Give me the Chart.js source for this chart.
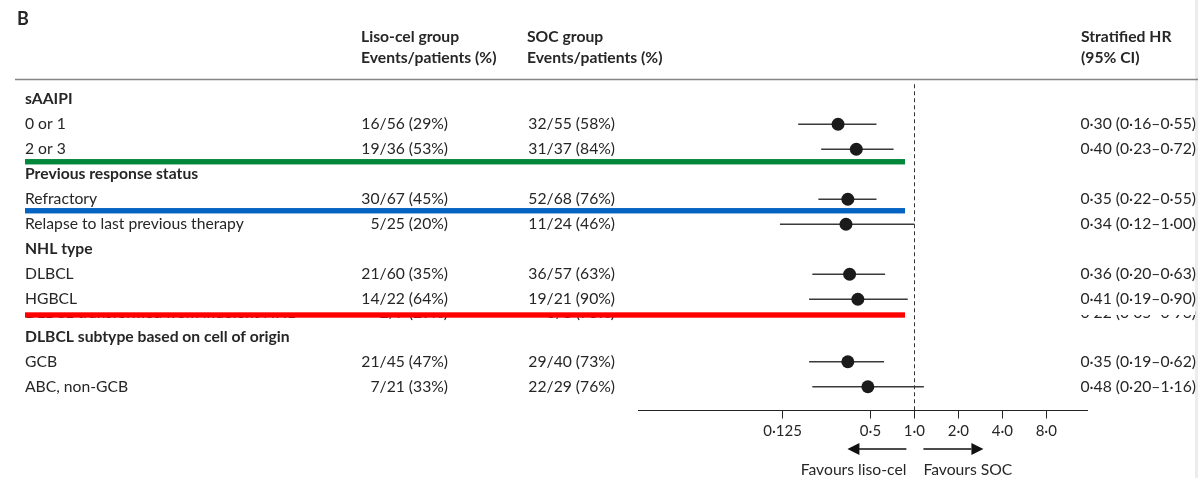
<!DOCTYPE html>
<html>
<head>
<meta charset="utf-8">
<title>Forest plot – subgroups</title>
<script src="https://cdn.jsdelivr.net/npm/chart.js@4.4.1/dist/chart.umd.min.js"></script>
<style>
  html, body { margin: 0; padding: 0; background: #fff; }
  #wrap { width: 1198px; height: 478px; position: relative; }
</style>
</head>
<body>
<div id="wrap"><canvas id="forest" width="1198" height="478"></canvas></div>
<script>
// rows of the table, top to bottom
const rowLabels = ['sAAIPI', '0 or 1', '2 or 3', 'Previous response status', 'Refractory',
  'Relapse to last previous therapy', 'NHL type', 'DLBCL', 'HGBCL',
  'DLBCL transformed from indolent NHL', 'DLBCL subtype based on cell of origin', 'GCB', 'ABC, non-GCB'];
const isHeading = [true, false, false, true, false, false, true, false, false, false, true, false, false];
const lisoCel = ['', '16/56 (29%)', '19/36 (53%)', '', '30/67 (45%)', '5/25 (20%)', '',
  '21/60 (35%)', '14/22 (64%)', '2/7 (29%)', '', '21/45 (47%)', '7/21 (33%)'];
const socGroup = ['', '32/55 (58%)', '31/37 (84%)', '', '52/68 (76%)', '11/24 (46%)', '',
  '36/57 (63%)', '19/21 (90%)', '6/8 (75%)', '', '29/40 (73%)', '22/29 (76%)'];
const hr = [null, 0.30, 0.40, null, 0.35, 0.34, null, 0.36, 0.41, 0.22, null, 0.35, 0.48];
const ciLow = [null, 0.16, 0.23, null, 0.22, 0.12, null, 0.20, 0.19, 0.05, null, 0.19, 0.20];
const ciHigh = [null, 0.55, 0.72, null, 0.55, 1.00, null, 0.63, 0.90, 0.96, null, 0.62, 1.16];
const xTicks = [0.125, 0.5, 1, 2, 4, 8];

// the transformed-NHL row sits under the red bar and only its lower edge shows;
// it takes up half a row and has no marker of its own
const coveredRow = 9;
const rowY = rowLabels.map((_, i) => i < coveredRow ? i : i === coveredRow ? i - 0.44 : i - 0.5);

const FONT = 'Lato, "Open Sans", sans-serif';
const SIZE = 15.7;
const ink = '#262626';

const fmt = v => v.toFixed(2).replace('.', '·');
const tickFmt = v => (Number.isInteger(v) || v === 0.5 ? v.toFixed(1) : String(v)).replace('.', '·');

const pointData = [];
const ciSets = [];
hr.forEach((v, i) => {
  if (v == null || i === coveredRow) return;
  pointData.push({ x: v, y: rowY[i] });
  ciSets.push({
    type: 'line',
    data: [{ x: ciLow[i], y: rowY[i] }, { x: ciHigh[i], y: rowY[i] }],
    borderColor: '#3a3a3a',
    borderWidth: 1.3,
    pointRadius: 0,
    fill: false
  });
});

const tableText = {
  id: 'tableText',
  afterDraw(chart) {
    const { ctx, chartArea } = chart;
    const xs = chart.scales.x, ys = chart.scales.y;
    ctx.save();

    // page edge
    ctx.fillStyle = '#ececec';
    ctx.fillRect(1195, 0, 3, 478);

    ctx.fillStyle = ink;
    ctx.textBaseline = 'middle';

    // column headings
    ctx.font = `bold 18px ${FONT}`;
    ctx.textAlign = 'left';
    ctx.fillText('B', 17, 19);
    ctx.font = `bold ${SIZE}px ${FONT}`;
    ctx.fillText('Liso-cel group', 361, 37);
    ctx.fillText('Events/patients (%)', 361, 58);
    ctx.fillText('SOC group', 527, 37);
    ctx.fillText('Events/patients (%)', 527, 58);
    ctx.fillText('Stratified HR', 1081, 37);
    ctx.fillText('(95% CI)', 1081, 58);

    ctx.strokeStyle = '#858585';
    ctx.lineWidth = 1.6;
    ctx.beginPath();
    ctx.moveTo(15, 79.5);
    ctx.lineTo(1198, 79.5);
    ctx.stroke();

    // body rows
    rowLabels.forEach((lab, i) => {
      const y = ys.getPixelForValue(rowY[i]);
      ctx.textAlign = 'left';
      ctx.font = `${isHeading[i] ? 'bold ' : ''}${SIZE}px ${FONT}`;
      ctx.fillText(lab, 25, y);
      if (isHeading[i]) return;
      ctx.font = `${SIZE}px ${FONT}`;
      ctx.textAlign = 'right';
      ctx.fillText(lisoCel[i], 448, y);
      ctx.fillText(socGroup[i], 615, y);
      ctx.fillText(`${fmt(hr[i])} (${fmt(ciLow[i])}–${fmt(ciHigh[i])})`, 1196, y);
    });

    // white-out between the HGBCL row and the red bar
    const redY = 315;
    ctx.fillStyle = '#fff';
    ctx.fillRect(15, 306.8, 1180, redY - 306.8);

    // reference line at HR = 1
    const x1 = xs.getPixelForValue(1);
    ctx.strokeStyle = '#333';
    ctx.lineWidth = 1;
    ctx.setLineDash([4, 3]);
    ctx.beginPath();
    ctx.moveTo(Math.round(x1) + 0.5, chartArea.top);
    ctx.lineTo(Math.round(x1) + 0.5, chartArea.bottom);
    ctx.stroke();
    ctx.setLineDash([]);

    // coloured marker bars between rows
    const bars = [
      { y: ys.getPixelForValue(2.5), c: '#00873a' },
      { y: ys.getPixelForValue(4.5) - 1, c: '#0563c1' },
      { y: redY, c: '#ff0000' }
    ];
    bars.forEach(b => {
      ctx.fillStyle = b.c;
      ctx.fillRect(25, b.y - 2.7, 880, 5.4);
    });

    // direction arrows under the axis
    const ay = 449;
    ctx.strokeStyle = '#111';
    ctx.fillStyle = '#111';
    ctx.lineWidth = 1.3;
    ctx.beginPath();
    ctx.moveTo(x1 - 8, ay); ctx.lineTo(x1 - 56, ay);
    ctx.moveTo(x1 + 9, ay); ctx.lineTo(x1 + 57, ay);
    ctx.stroke();
    ctx.beginPath();
    ctx.moveTo(x1 - 67, ay); ctx.lineTo(x1 - 55, ay - 6); ctx.lineTo(x1 - 55, ay + 6); ctx.closePath();
    ctx.moveTo(x1 + 69, ay); ctx.lineTo(x1 + 57, ay - 6); ctx.lineTo(x1 + 57, ay + 6); ctx.closePath();
    ctx.fill();

    ctx.fillStyle = ink;
    ctx.font = `${SIZE}px ${FONT}`;
    ctx.textAlign = 'right';
    ctx.fillText('Favours liso-cel', x1 - 8, 470);
    ctx.textAlign = 'left';
    ctx.fillText('Favours SOC', x1 + 9, 470);
    ctx.restore();
  }
};

new Chart(document.getElementById('forest').getContext('2d'), {
  type: 'scatter',
  data: {
    datasets: [
      {
        type: 'scatter',
        data: pointData,
        pointRadius: 6.5,
        pointHoverRadius: 6.5,
        backgroundColor: '#1b1b1b',
        borderWidth: 0
      },
      ...ciSets
    ]
  },
  options: {
    responsive: false,
    animation: false,
    events: [],
    layout: { padding: { left: 638, right: 111, top: 84.25, bottom: 37.5 } },
    plugins: { legend: { display: false }, tooltip: { enabled: false } },
    scales: {
      x: {
        type: 'logarithmic',
        min: 0.0128,
        max: 15.2,
        afterBuildTicks: scale => { scale.ticks = xTicks.map(v => ({ value: v, major: false })); },
        afterFit: scale => { scale.height = 30; },
        grid: { display: true, drawOnChartArea: false, drawTicks: true, tickLength: 8, color: '#222', lineWidth: 1 },
        border: { display: true, color: '#222', width: 1 },
        ticks: {
          color: ink,
          padding: 4,
          maxRotation: 0,
          autoSkip: false,
          font: { family: FONT, size: 15 },
          callback: v => tickFmt(v)
        }
      },
      y: {
        type: 'linear',
        display: false,
        reverse: true,
        min: -0.6,
        max: 12.45
      }
    }
  },
  plugins: [tableText]
});
</script>
</body>
</html>
